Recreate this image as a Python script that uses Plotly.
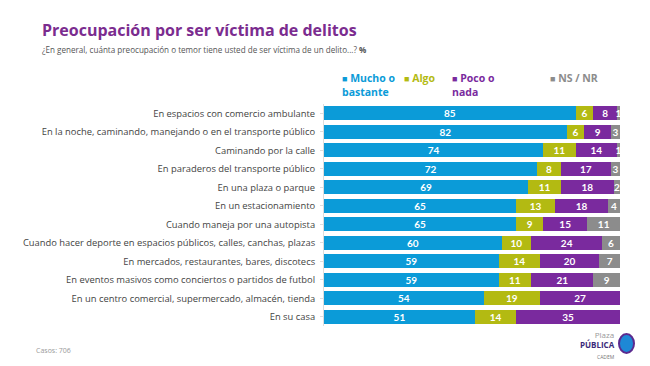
import plotly.graph_objects as go

categories = [
    "En espacios con comercio ambulante",
    "En la noche, caminando, manejando o en el transporte público",
    "Caminando por la calle",
    "En paraderos del transporte público",
    "En una plaza o parque",
    "En un estacionamiento",
    "Cuando maneja por una autopista",
    "Cuando hacer deporte en espacios públicos, calles, canchas, plazas",
    "En mercados, restaurantes, bares, discotecs",
    "En eventos masivos como conciertos o partidos de futbol",
    "En un centro comercial, supermercado, almacén, tienda",
    "En su casa",
]
mucho = [85, 82, 74, 72, 69, 65, 65, 60, 59, 59, 54, 51]
algo = [6, 6, 11, 8, 11, 13, 9, 10, 14, 11, 19, 14]
poco = [8, 9, 14, 17, 18, 18, 15, 24, 20, 21, 27, 35]
nsnr = [1, 3, 1, 3, 2, 4, 11, 6, 7, 9, 0, 0]

series_names = ["Mucho o bastante", "Algo", "Poco o nada", "NS / NR"]
series_values = [mucho, algo, poco, nsnr]
colors = ["#0B9BD8", "#B3BA12", "#7A2A9E", "#8C8C8C"]

fig = go.Figure()
for name, vals, col in zip(series_names, series_values, colors):
    fig.add_trace(go.Bar(
        y=categories, x=vals, orientation="h", name=name,
        marker=dict(color=col, line=dict(width=0)),
        text=[str(v) if v > 0 else "" for v in vals],
        textposition="inside", insidetextanchor="middle", textangle=0,
        constraintext="none",
        textfont=dict(color="white", size=10, family="Lato", weight="bold"),
        showlegend=False, hoverinfo="skip",
    ))

L, R, T, B = 324, 30, 104, 40
W, H = 650, 366
PW, PH = W - L - R, H - T - B

fig.update_layout(
    barmode="stack", bargap=0.24,
    width=W, height=H,
    margin=dict(l=L, r=R, t=T, b=B),
    paper_bgcolor="white", plot_bgcolor="white",
    font=dict(family="Open Sans", color="#444"),
    xaxis=dict(range=[0, 100], visible=False, fixedrange=True),
    yaxis=dict(autorange="reversed", showline=True, linecolor="#dddddd", linewidth=1,
               ticks="outside", ticklen=3, tickcolor="#dddddd", fixedrange=True,
               tickfont=dict(size=9.4, color="#444", family="Open Sans"),
               ticklabelstandoff=3),
)

ann = [
    dict(x=40, y=30, text="<b>Preocupación por ser víctima de delitos</b>",
         font=dict(size=16, color="#7B2C8F", family="Open Sans")),
    dict(x=40, y=49, text="¿En general, cuánta preocupación o temor tiene usted de ser víctima de un delito...? <b>%</b>",
         font=dict(size=8.1, color="#555", family="Open Sans")),
    dict(x=34, y=350, text="Casos: 706", font=dict(size=7, color="#999", family="Open Sans")),
]
legend_items = [(340, "Mucho o<br>bastante", colors[0]), (402, "Algo", colors[1]),
                (450, "Poco o<br>nada", colors[2]), (548, "NS / NR", colors[3])]
for lx, txt, col in legend_items:
    ann.append(dict(x=lx, y=69, text="<b><span style='font-size:9px'>■</span> " + txt + "</b>",
                    font=dict(size=10.5, color=col, family="Open Sans"), yanchor="top", align="left"))
annotations = []
for a in ann:
    d = dict(xref="paper", yref="paper", showarrow=False, xanchor="left",
             yanchor=a.get("yanchor", "middle"), align=a.get("align", "left"))
    d["x"] = (a["x"] - L) / PW
    d["y"] = 1 - (a["y"] - T) / PH
    d["text"] = a["text"]
    d["font"] = a["font"]
    annotations.append(d)

# logo text
annotations.append(dict(xref="paper", yref="paper", showarrow=False, xanchor="right", yanchor="middle",
                        x=(617 - L) / PW, y=1 - (344 - T) / PH,
                        text="<span style='color:#999;font-size:8px'>Plaza</span><br><b>PÚBLICA</b><br><span style='font-size:5px;color:#777'>CADEM</span>",
                        font=dict(size=8, color="#3B2A7A", family="Open Sans"), align="right"))
fig.add_shape(type="circle", xref="paper", yref="paper",
              x0=(619 - L) / PW, x1=(634 - L) / PW,
              y0=1 - (353 - T) / PH, y1=1 - (334 - T) / PH,
              fillcolor="#1E88D6", line=dict(color="#5B2A8F", width=2))
fig.update_layout(annotations=annotations)

fig.write_html("out.html", config={"displayModeBar": False},
               post_script="document.body.style.margin='0';document.body.style.overflow='hidden';")
